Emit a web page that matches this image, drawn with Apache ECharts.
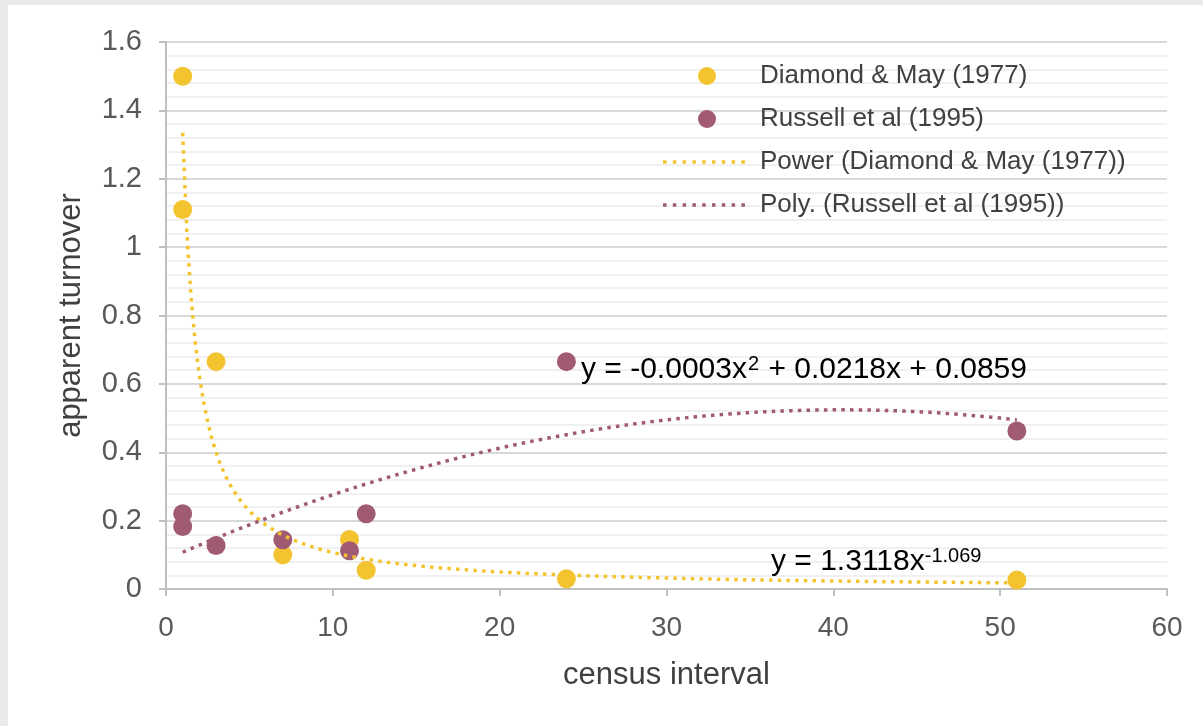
<!DOCTYPE html>
<html><head><meta charset="utf-8">
<script src="https://cdn.jsdelivr.net/npm/echarts@6/dist/echarts.min.js"></script>
<style>
html,body{margin:0;padding:0;background:#ebeae8;width:1203px;height:726px;overflow:hidden}
#c{position:absolute;left:8px;top:5px;width:1195px;height:721px;background:#fff}
</style></head><body><div id="c"></div>
<script>
// ---- data ----
const seriesNames = ['Diamond & May (1977)', 'Russell et al (1995)', 'Power (Diamond & May (1977))', 'Poly. (Russell et al (1995))'];
const diamondX = [1, 1, 3, 7, 11, 12, 24, 51];
const diamondY = [1.50, 1.11, 0.665, 0.10, 0.145, 0.055, 0.03, 0.026];
const russellX = [1, 1, 3, 7, 11, 12, 24, 51];
const russellY = [0.22, 0.183, 0.127, 0.144, 0.112, 0.22, 0.665, 0.462];
const xTickValues = [0, 10, 20, 30, 40, 50, 60];
const yTickValues = [0, 0.2, 0.4, 0.6, 0.8, 1, 1.2, 1.4, 1.6];
const polyLabelParts = ['y = -0.0003x', '2', ' + 0.0218x + 0.0859'];
const powerLabelParts = ['y = 1.3118x', '-1.069'];
const axisNames = { x: 'census interval', y: 'apparent turnover' };

// ---- trendlines fitted from the data (least squares, as the spreadsheet does) ----
function powerFit(xs, ys) {
  const lx = xs.map(Math.log), ly = ys.map(Math.log), n = xs.length;
  const mx = lx.reduce((a, b) => a + b) / n, my = ly.reduce((a, b) => a + b) / n;
  let sxy = 0, sxx = 0;
  for (let i = 0; i < n; i++) { sxy += (lx[i] - mx) * (ly[i] - my); sxx += (lx[i] - mx) ** 2; }
  const b = sxy / sxx, a = Math.exp(my - b * mx);
  return x => a * Math.pow(x, b);
}
function poly2Fit(xs, ys) {
  const S = k => xs.reduce((s, x) => s + Math.pow(x, k), 0);
  const T = k => xs.reduce((s, x, i) => s + Math.pow(x, k) * ys[i], 0);
  const M = [[S(0), S(1), S(2), T(0)], [S(1), S(2), S(3), T(1)], [S(2), S(3), S(4), T(2)]];
  for (let i = 0; i < 3; i++) {
    for (let j = i + 1; j < 3; j++) {
      const f = M[j][i] / M[i][i];
      for (let k = i; k < 4; k++) M[j][k] -= f * M[i][k];
    }
  }
  const c = [0, 0, 0];
  for (let i = 2; i >= 0; i--) {
    let s = M[i][3];
    for (let k = i + 1; k < 3; k++) s -= M[i][k] * c[k];
    c[i] = s / M[i][i];
  }
  return x => c[0] + c[1] * x + c[2] * x * x;
}
function curve(fn, xs) {
  const lo = Math.min(...xs), hi = Math.max(...xs), pts = [];
  for (let x = lo; x <= hi + 1e-9; x += 0.25) pts.push([x, fn(x)]);
  return pts;
}
const powerCurve = curve(powerFit(diamondX, diamondY), diamondX);
const polyCurve = curve(poly2Fit(russellX, russellY), russellX);

const YELLOW = '#F4C430', PURPLE = '#A05A74';
const FONT = 'Liberation Sans';

// legend icon: a row of small square dots (dotted trendline sample)
function dottedIcon(w, h) {
  let p = 'path://M0 0Z M' + w + ' ' + h + 'Z';
  const s = 3.5, y = (h - s) / 2;
  for (let x = 0; x + s <= w - 4; x += 9.8) p += ' M' + x + ' ' + y + 'h' + s + 'v' + s + 'h-' + s + 'Z';
  return p;
}

const chart = echarts.init(document.getElementById('c'), null, { renderer: 'canvas' });
chart.setOption({
  animation: false,
  textStyle: { fontFamily: FONT },
  grid: { left: 158, right: 36, top: 37, bottom: 137 },
  legend: {
    orient: 'vertical', left: 655, top: 58, padding: 0,
    itemWidth: 88, itemHeight: 18, itemGap: 17,
    textStyle: { fontSize: 26, color: '#404040', fontFamily: FONT, padding: [0, 0, 0, 4] },
    data: [
      { name: seriesNames[0], icon: 'circle' },
      { name: seriesNames[1], icon: 'circle' },
      { name: seriesNames[2], icon: dottedIcon(88, 18) },
      { name: seriesNames[3], icon: dottedIcon(88, 18) }
    ]
  },
  xAxis: {
    type: 'value', min: xTickValues[0], max: xTickValues[xTickValues.length - 1], interval: 10,
    name: axisNames.x, nameLocation: 'middle', nameGap: 71,
    nameTextStyle: { fontSize: 31, color: '#404040', fontFamily: FONT },
    axisLine: { show: true, lineStyle: { color: '#bfbfbf', width: 2 } },
    axisTick: { show: true, inside: false, length: 7, lineStyle: { color: '#bfbfbf', width: 2 } },
    axisLabel: { fontSize: 28, color: '#595959', margin: 25, fontFamily: FONT },
    splitLine: { show: false }
  },
  yAxis: {
    type: 'value', min: yTickValues[0], max: yTickValues[yTickValues.length - 1], interval: 0.2,
    name: axisNames.y, nameLocation: 'middle', nameGap: 79, nameRotate: 90,
    nameTextStyle: { fontSize: 31, color: '#404040', fontFamily: FONT },
    axisLine: { show: true, lineStyle: { color: '#bfbfbf', width: 2 } },
    axisTick: { show: true, inside: false, length: 7, lineStyle: { color: '#bfbfbf', width: 2 } },
    axisLabel: { fontSize: 29, color: '#595959', margin: 24, fontFamily: FONT,
      formatter: v => String(Math.round(v * 10) / 10) },
    splitLine: { show: true, lineStyle: { color: '#d9d9d9', width: 2 } },
    minorTick: { show: false, splitNumber: 5 },
    minorSplitLine: { show: true, lineStyle: { color: '#f0f0f0', width: 2 } }
  },
  series: [
    { name: seriesNames[0], type: 'scatter', symbol: 'circle', symbolSize: 19, z: 3,
      itemStyle: { color: YELLOW, opacity: 1 }, data: diamondX.map((x, i) => [x, diamondY[i]]) },
    { name: seriesNames[1], type: 'scatter', symbol: 'circle', symbolSize: 19, z: 3,
      itemStyle: { color: PURPLE, opacity: 1 }, data: russellX.map((x, i) => [x, russellY[i]]) },
    { name: seriesNames[2], type: 'line', symbol: 'none', showSymbol: false, z: 4, smooth: false,
      itemStyle: { color: YELLOW },
      lineStyle: { color: YELLOW, width: 3.5, type: [3.5, 5.2], cap: 'butt' }, data: powerCurve },
    { name: seriesNames[3], type: 'line', symbol: 'none', showSymbol: false, z: 4, smooth: false,
      itemStyle: { color: PURPLE },
      lineStyle: { color: PURPLE, width: 3.5, type: [3.5, 5.2], cap: 'butt' }, data: polyCurve }
  ],
  graphic: [
    { type: 'text', left: 573, top: 349, z: 10,
      style: { text: '{a|' + polyLabelParts[0] + '}{s|' + polyLabelParts[1] + '}{a|' + polyLabelParts[2] + '}',
        rich: { a: { fontSize: 30, fontFamily: FONT, color: '#262626' },
                s: { fontSize: 20, fontFamily: FONT, color: '#262626', padding: [0, 1, 12, 1] } } } },
    { type: 'text', left: 763, top: 541, z: 10,
      style: { text: '{a|' + powerLabelParts[0] + '}{s|' + powerLabelParts[1] + '}',
        rich: { a: { fontSize: 30, fontFamily: FONT, color: '#262626' },
                s: { fontSize: 20, fontFamily: FONT, color: '#262626', padding: [0, 0, 12, 0] } } } }
  ]
});
</script></body></html>
